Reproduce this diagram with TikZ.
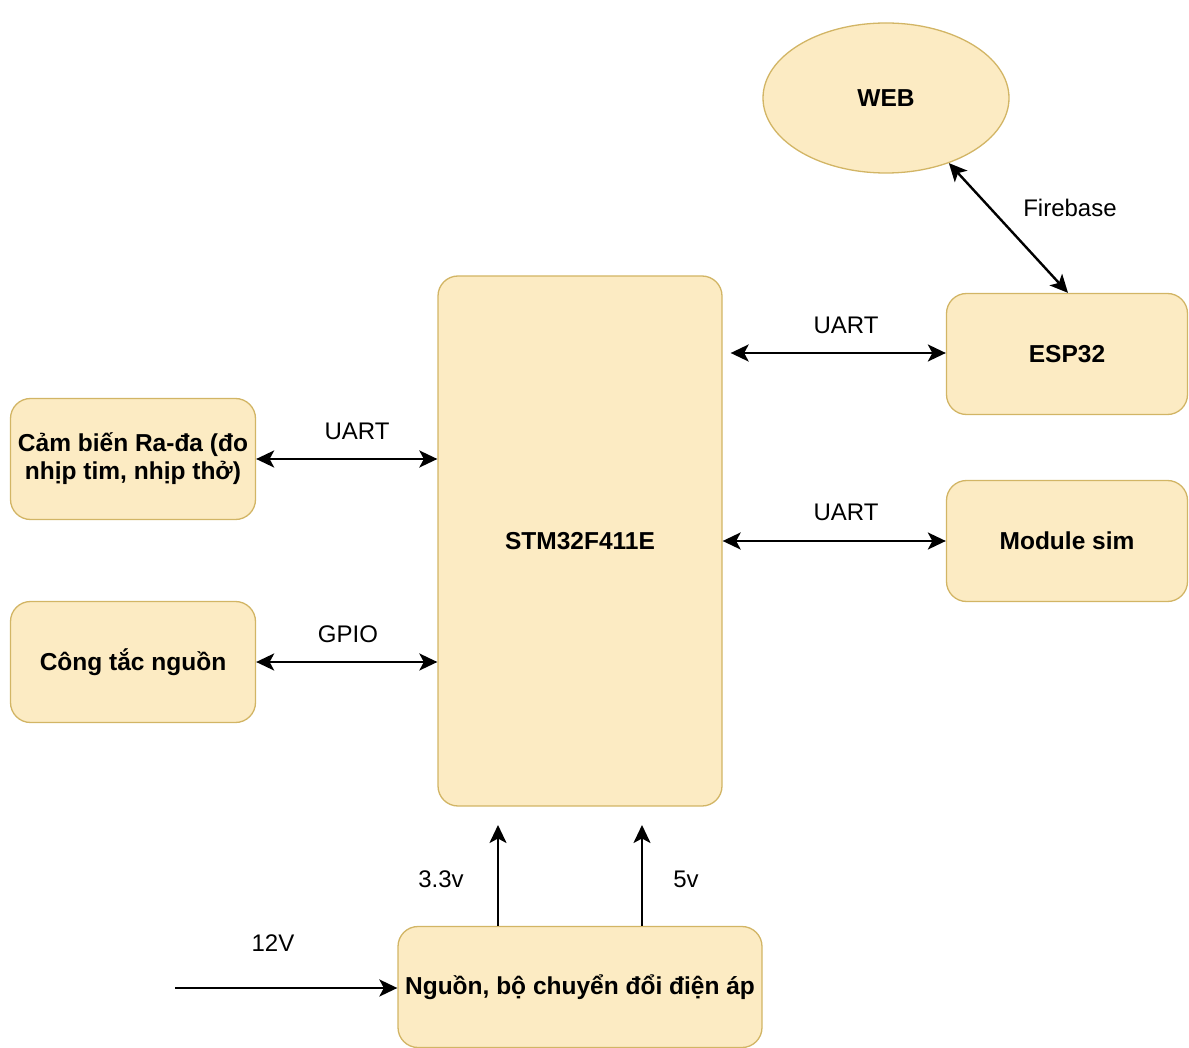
\documentclass[tikz,border=0pt]{standalone}
\usepackage{fontspec}
\setmainfont{Liberation Sans}
\usetikzlibrary{arrows.meta,shapes.geometric}
\definecolor{boxfill}{HTML}{FCEBC3}
\definecolor{boxline}{HTML}{D2B565}
\tikzset{
  blk/.style={draw=boxline, fill=boxfill, line width=1.3pt, rounded corners=20pt, font=\fontsize{24.5}{28}\selectfont\bfseries, align=center, inner sep=0pt},
  conn/.style={line width=2.4pt, {Stealth[length=18pt,width=17pt,inset=4.5pt]}-{Stealth[length=18pt,width=17pt,inset=4.5pt]}},
  oneway/.style={line width=2.4pt, -{Stealth[length=18pt,width=17pt,inset=4.5pt]}},
  lbl/.style={font=\fontsize{24}{28}\selectfont, inner sep=0pt}
}
\begin{document}
\begin{tikzpicture}[x=1pt,y=-1pt]
\useasboundingbox (0,0) rectangle (1189,1048);
% nodes
\node[blk, ellipse, rounded corners=0pt, minimum width=246pt, minimum height=150pt] (web) at (886,98) {WEB};
\node[blk, minimum width=241pt, minimum height=121pt] (esp) at (1067,354) {ESP32};
\node[blk, minimum width=241pt, minimum height=121pt] (sim) at (1067,541) {Module sim};
\node[blk, minimum width=284pt, minimum height=530pt] (stm) at (580,541) {STM32F411E};
\node[blk, minimum width=245pt, minimum height=121pt] (radar) at (133,459) {Cảm biến Ra-đa (đo\\nhịp tim, nhịp thở)};
\node[blk, minimum width=245pt, minimum height=121pt] (sw) at (133,662) {Công tắc nguồn};
\node[blk, minimum width=364pt, minimum height=121pt] (psu) at (580,987) {Nguồn, bộ chuyển đổi điện áp};
% connector anchor points
\coordinate (in12) at (175,988);
\coordinate (stmA) at (498,825);
\coordinate (stmB) at (642,825);
% connectors
\draw[conn] (radar.east |- 0,459) -- (stm.west |- 0,459);
\draw[conn] (sw.east |- 0,662) -- (stm.west |- 0,662);
\draw[conn] ([xshift=8pt]stm.east |- 0,353) -- (esp.west |- 0,353);
\draw[conn] (stm.east |- 0,541) -- (sim.west |- 0,541);
\draw[conn] (web.-46) -- ([xshift=1pt]esp.north);
\draw[oneway] (psu.north -| stmA) -- (stmA);
\draw[oneway] (psu.north -| stmB) -- (stmB);
\draw[oneway] (in12) -- (psu.west |- in12);
% labels
\node[lbl] (l1) at (357,431) {UART};
\node[lbl] (l2) at (348,634) {GPIO};
\node[lbl] (l3) at (846,325) {UART};
\node[lbl] (l4) at (846,512) {UART};
\node[lbl] (l5) at (1070,208) {Firebase};
\node[lbl] (l6) at (441,879) {3.3v};
\node[lbl] (l7) at (686,879) {5v};
\node[lbl] (l8) at (273,943) {12V};
\end{tikzpicture}
\end{document}
